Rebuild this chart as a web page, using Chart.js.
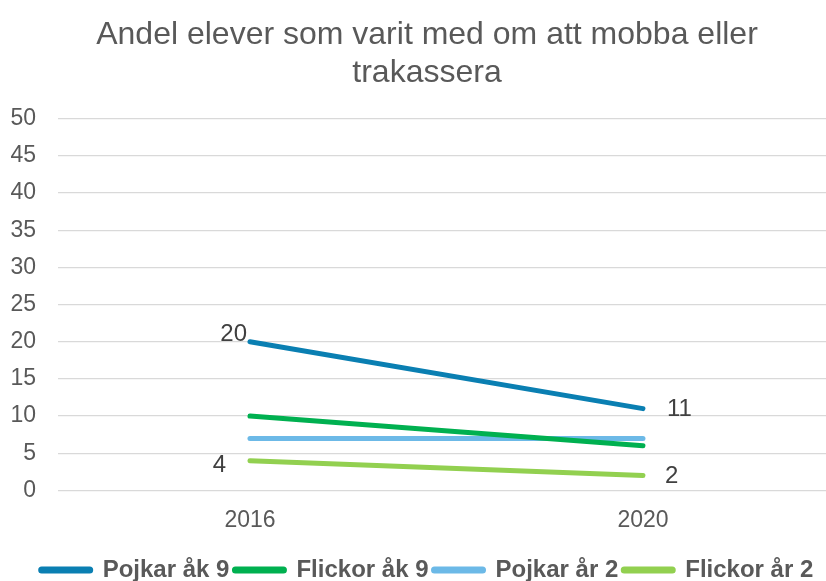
<!DOCTYPE html>
<html>
<head>
<meta charset="utf-8">
<script src="https://cdn.jsdelivr.net/npm/chart.js@4.4.0/dist/chart.umd.min.js"></script>
<style>
  html, body { margin: 0; padding: 0; background: #fff; }
  #wrap { width: 826px; height: 581px; }
</style>
</head>
<body>
<div id="wrap"><canvas id="trendChart"></canvas></div>
<script>
// --- data ---
const years = [2016, 2020];
const seriesNames = ['Pojkar åk 9', 'Flickor åk 9', 'Pojkar år 2', 'Flickor år 2'];
const pojkarAk9 = [20, 11];
const flickorAk9 = [10, 6];
const pojkarAr2 = [7, 7];
const flickorAr2 = [4, 2];
const yTicks = [0, 5, 10, 15, 20, 25, 30, 35, 40, 45, 50];

const colors = ['#0a7fb2', '#00b050', '#6cb9e7', '#92d050'];
const allSeries = [pojkarAk9, flickorAk9, pojkarAr2, flickorAr2];

// where each value label sits next to its point (null = no labels)
const labelSpots = [
    [{ dx: -3, dy: -7, align: 'right' }, { dx: 24, dy: 1, align: 'left' }],
    null,
    null,
    [{ dx: -24, dy: 5, align: 'right' }, { dx: 22, dy: 1, align: 'left' }]
];

const valueLabels = {
    id: 'valueLabels',
    afterDatasetsDraw(chart) {
        const ctx = chart.ctx;
        ctx.save();
        ctx.font = '24px "Liberation Sans", Arial, sans-serif';
        ctx.fillStyle = '#404040';
        ctx.textBaseline = 'middle';
        chart.data.datasets.forEach((ds, i) => {
            if (!labelSpots[i]) return;
            const meta = chart.getDatasetMeta(i);
            meta.data.forEach((pt, j) => {
                const spot = labelSpots[i][j];
                ctx.textAlign = spot.align;
                ctx.fillText(ds.data[j].y, pt.x + spot.dx, pt.y + spot.dy);
            });
        });
        ctx.restore();
    }
};

const ctx = document.getElementById('trendChart');
new Chart(ctx, {
    type: 'line',
    data: {
        datasets: seriesNames.map((name, i) => ({
            label: name,
            data: years.map((yr, j) => ({ x: yr, y: allSeries[i][j] })),
            borderColor: colors[i],
            backgroundColor: colors[i],
            borderWidth: 5,
            borderCapStyle: 'round',
            pointRadius: 0,
            tension: 0
        }))
    },
    options: {
        responsive: true,
        maintainAspectRatio: false,
        animation: false,
        layout: { padding: { left: 8, right: -20, top: 4, bottom: -11 } },
        plugins: {
            title: {
                display: true,
                text: ['Andel elever som varit med om att mobba eller', 'trakassera'],
                color: '#595959',
                font: { family: '"Liberation Sans", Arial, sans-serif', size: 32, weight: 'normal' },
                padding: { top: 12, bottom: 26 },
                lineHeight: 1.1
            },
            legend: {
                position: 'bottom',
                labels: {
                    color: '#595959',
                    font: { family: '"Liberation Sans", Arial, sans-serif', size: 24, weight: 'bold' },
                    boxWidth: 50,
                    boxHeight: 2,
                    useBorderRadius: true,
                    borderRadius: 1,
                    padding: 5
                }
            },
            tooltip: { enabled: false }
        },
        scales: {
            x: {
                type: 'linear',
                min: 2014.046,
                max: 2021.863,
                afterBuildTicks: (axis) => { axis.ticks = years.map(v => ({ value: v })); },
                afterFit: (axis) => { axis.height += 11; },
                ticks: {
                    color: '#595959',
                    font: { family: '"Liberation Sans", Arial, sans-serif', size: 23 },
                    callback: (v) => String(v),
                    padding: 8
                },
                grid: { display: false },
                border: { display: false }
            },
            y: {
                min: 0,
                max: 50,
                afterBuildTicks: (axis) => { axis.ticks = yTicks.map(v => ({ value: v })); },
                afterFit: (axis) => { axis.width = 50; },
                ticks: {
                    color: '#595959',
                    font: { family: '"Liberation Sans", Arial, sans-serif', size: 23 },
                    padding: 22
                },
                grid: { color: '#d9d9d9', lineWidth: 1.3, drawTicks: false },
                border: { display: false }
            }
        }
    },
    plugins: [valueLabels]
});
</script>
</body>
</html>
